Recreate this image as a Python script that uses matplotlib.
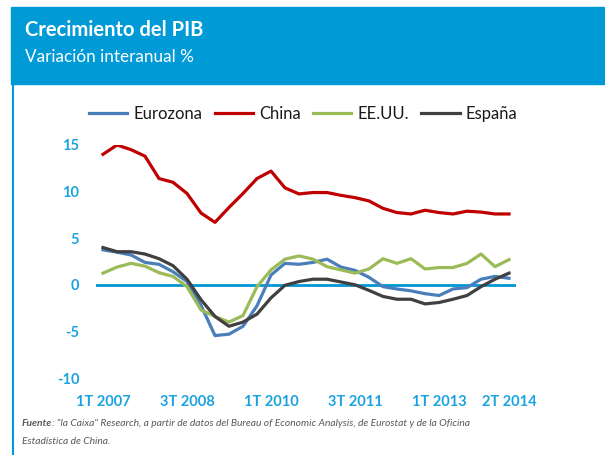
import matplotlib.pyplot as plt
from matplotlib.patches import Rectangle
from matplotlib.lines import Line2D

# Quarterly GDP growth, 1T 2007 .. 2T 2014
quarters = ["1T 2007", "2T 2007", "3T 2007", "4T 2007",
            "1T 2008", "2T 2008", "3T 2008", "4T 2008",
            "1T 2009", "2T 2009", "3T 2009", "4T 2009",
            "1T 2010", "2T 2010", "3T 2010", "4T 2010",
            "1T 2011", "2T 2011", "3T 2011", "4T 2011",
            "1T 2012", "2T 2012", "3T 2012", "4T 2012",
            "1T 2013", "2T 2013", "3T 2013", "4T 2013",
            "1T 2014", "2T 2014"]

eurozona = [3.75, 3.5, 3.2, 2.4, 2.2, 1.4, 0.35, -2.2, -5.45, -5.3,
            -4.45, -2.25, 1.05, 2.3, 2.2, 2.4, 2.75, 1.9, 1.55, 0.8,
            -0.2, -0.45, -0.65, -0.95, -1.15, -0.45, -0.3, 0.6, 0.9, 0.7]
china = [14.0, 15.0, 14.5, 13.8, 11.4, 11.0, 9.8, 7.7, 6.7, 8.3,
         9.8, 11.4, 12.2, 10.4, 9.75, 9.9, 9.9, 9.6, 9.35, 9.0,
         8.2, 7.75, 7.6, 8.0, 7.75, 7.6, 7.9, 7.8, 7.6, 7.6]
eeuu = [1.25, 1.9, 2.3, 2.0, 1.3, 0.9, -0.2, -2.7, -3.4, -4.0,
        -3.3, -0.2, 1.6, 2.75, 3.1, 2.75, 1.95, 1.6, 1.25, 1.7,
        2.8, 2.3, 2.8, 1.7, 1.85, 1.85, 2.3, 3.3, 1.95, 2.7]
espana = [4.0, 3.55, 3.55, 3.3, 2.8, 2.05, 0.6, -1.6, -3.4, -4.45,
          -4.0, -3.15, -1.4, -0.05, 0.35, 0.6, 0.6, 0.3, 0.0, -0.6,
          -1.25, -1.55, -1.55, -2.05, -1.9, -1.55, -1.15, -0.2, 0.6, 1.25]

tick_idx = [0, 6, 12, 18, 24, 29]
yticks = [-10, -5, 0, 5, 10, 15]

header_blue = "#009BD6"
label_blue = "#1AA3E0"
font = "Lato"

fig = plt.figure(figsize=(6.05, 4.55), dpi=100)

# header band and left rule
fig.patches.append(Rectangle((11/605, 1 - 84/455), 1 - 11/605, 77/455,
                             transform=fig.transFigure, color=header_blue, zorder=0))
fig.add_artist(Line2D([13/605, 13/605], [0, 1 - 84/455], transform=fig.transFigure,
                      color=header_blue, lw=1.5))
fig.text(25/605, 1 - 30/455, "Crecimiento del PIB", color="white", fontsize=14.5,
         fontweight="bold", family=font, va="center")
fig.text(25/605, 1 - 57/455, "Variación interanual %", color="white", fontsize=12.3,
         family=font, va="center")

ax = fig.add_axes([96/605, 1 - 378/455, 420/605, 233/455])
x = list(range(len(quarters)))
ax.axhline(0, color="#0096D6", lw=2, zorder=1)
ax.plot(x, eurozona, color="#4A7EBB", lw=2.3, label="Eurozona", zorder=3)
ax.plot(x, china, color="#C00000", lw=2.3, label="China", zorder=3)
ax.plot(x, eeuu, color="#9BBB59", lw=2.3, label="EE.UU.", zorder=3)
ax.plot(x, espana, color="#404040", lw=2.3, label="España", zorder=4)

ax.set_xlim(-0.5, 29.5)
ax.set_ylim(-10, 15)
ax.set_yticks(yticks)
ax.set_yticklabels([str(v) for v in yticks])
ax.set_xticks(tick_idx)
ax.set_xticklabels([quarters[i] for i in tick_idx])
ax.tick_params(length=0, labelcolor=label_blue)
ax.tick_params(axis="y", pad=12)
ax.tick_params(axis="x", pad=12)
for lab in ax.get_xticklabels() + ax.get_yticklabels():
    lab.set_fontweight("bold")
    lab.set_fontsize(10.5)
    lab.set_family(font)
for s in ax.spines.values():
    s.set_visible(False)

leg = ax.legend(loc="lower center", bbox_to_anchor=(0.493, 1.035), ncol=4, frameon=False,
                handlelength=2.3, handletextpad=0.35, columnspacing=0.75,
                prop={"family": font, "size": 12})
for t in leg.get_texts():
    t.set_color("#1A1A1A")

# footnote
src = fig.text(22/605, 1 - 424/455, "Fuente", fontsize=7.4, style="italic",
               fontweight="bold", color="#595959", family=font, va="center")
ax.annotate(": \"la Caixa\" Research, a partir de datos del Bureau of Economic Analysis, "
            "de Eurostat y de la Oficina", xy=(1, 0.5), xycoords=src, va="center",
            fontsize=7.4, style="italic", color="#595959", family=font,
            annotation_clip=False)
fig.text(22/605, 1 - 441/455, "Estadística de China.", fontsize=7.4, style="italic",
         color="#595959", family=font, va="center")

fig.savefig("out.png", dpi=100)
